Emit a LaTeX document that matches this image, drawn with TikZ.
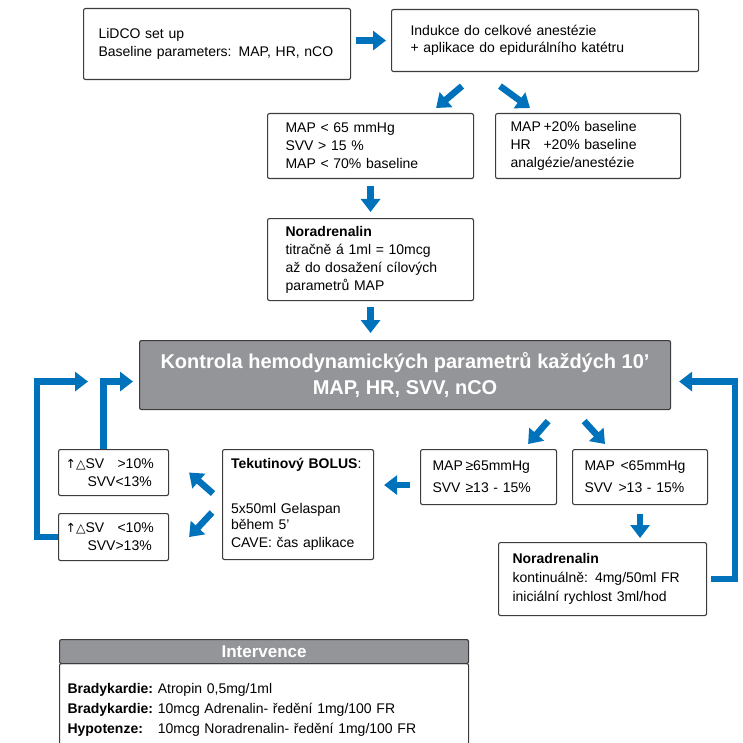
\documentclass[tikz,border=0pt]{standalone}
\usepackage{fontspec}
\setmainfont{Liberation Sans}
\newfontfamily\glyphfont{DejaVu Sans}
\usetikzlibrary{arrows.meta,calc}
\definecolor{flowblue}{RGB}{0,114,188}
\definecolor{boxgray}{RGB}{148,149,153}
\definecolor{edgegray}{RGB}{60,60,60}
\newcommand{\svgain}{{\glyphfont\fontsize{12.5}{14}\selectfont ↑△}}
\begin{document}
\begin{tikzpicture}[x=1pt, y=-1pt,
  every node/.style={font=\fontsize{14}{18}\selectfont},
  stepbox/.style={draw=edgegray, line width=1.1pt, rounded corners=2pt, anchor=north west, align=left, inner ysep=2pt},
  graybox/.style={stepbox, fill=boxgray, align=center, text=white},
  bluearrow/.style={draw=flowblue, line width=6.5pt, -{Triangle[length=13pt,width=19pt]}}]
\path[use as bounding box, clip] (0,0) rectangle (743,743);
\node[stepbox, minimum width=267pt, minimum height=71pt, text width=237pt] (lidco) at (83,8) {LiDCO set up\\Baseline parameters: MAP, HR, nCO};
\node[stepbox, minimum width=307pt, minimum height=62pt, text width=269pt] (induk) at (391,9) {Indukce do celkové anestézie\\[-1pt]+ aplikace do epidurálního katétru};
\node[stepbox, minimum width=206pt, minimum height=65pt, text width=170pt] (lowmap) at (267,113) {MAP < 65 mmHg\\SVV > 15 \%\\MAP < 70\% baseline};
\node[stepbox, minimum width=185pt, minimum height=65pt, text width=155pt] (highmap) at (495,113) {\makebox[33pt][l]{MAP}+20\% baseline\\\makebox[33pt][l]{HR}+20\% baseline\\analgézie/anestézie};
\node[stepbox, minimum width=206pt, minimum height=82pt, text width=170pt] (titr) at (267,218) {\textbf{Noradrenalin}\\titračně á 1ml = 10mcg\\až do dosažení cílových\\parametrů MAP};
\node[graybox, minimum width=531pt, minimum height=69pt, font=\fontsize{20}{26}\selectfont\bfseries] (control) at (139,340) {Kontrola hemodynamických parametrů každých 10'\\MAP, HR, SVV, nCO};
\node[stepbox, minimum width=110pt, minimum height=46pt, text width=96pt] (up10) at (58,449) {\makebox[52pt][l]{\svgain SV}>10\%\\\hspace*{22pt}SVV<13\%};
\node[stepbox, minimum width=110pt, minimum height=47pt, text width=96pt] (down10) at (58,513) {\makebox[52pt][l]{\svgain SV}<10\%\\\hspace*{22pt}SVV>13\%};
\node[stepbox, minimum width=151pt, minimum height=110pt, text width=134pt] (bolus) at (222,449) {\textbf{Tekutinový BOLUS}:\\[27pt]5x50ml Gelaspan\\[-2pt]během 5'\\CAVE: čas aplikace};
\node[stepbox, minimum width=136pt, minimum height=55pt, text width=112pt] (mapok) at (420,449) {\makebox[33pt][l]{MAP}≥65mmHg\\[4pt]\makebox[33pt][l]{SVV}≥13 - 15\%};
\node[stepbox, minimum width=135pt, minimum height=55pt, text width=111pt] (maplow) at (572,449) {\makebox[36pt][l]{MAP}<65mmHg\\[4pt]\makebox[34pt][l]{SVV}>13 - 15\%};
\node[stepbox, minimum width=208pt, minimum height=73pt, text width=180pt] (norcont) at (498,542) {\textbf{Noradrenalin}\\[1pt]kontinuálně: 4mg/50ml FR\\[1pt]iniciální rychlost 3ml/hod};
\node[graybox, minimum width=409pt, minimum height=24pt, font=\fontsize{17}{20}\selectfont\bfseries] (intHead) at (59,639) {Intervence};
\node[stepbox, minimum width=409pt, text width=393pt, inner ysep=16pt, text depth=80pt] (intBody) at (59,663) {\renewcommand{\arraystretch}{1.12}\begin{tabular}{@{}l@{\ }l@{}}
\textbf{Bradykardie:} & Atropin 0,5mg/1ml\\
\textbf{Bradykardie:} & 10mcg Adrenalin- ředění 1mg/100 FR\\
\textbf{Hypotenze:} & 10mcg Noradrenalin- ředění 1mg/100 FR
\end{tabular}};
\draw[bluearrow] ([xshift=5pt]lidco.east |- induk.west) -- ([xshift=-5pt]induk.west);
\draw[bluearrow] ($(induk.south west)+(71,14)$) -- ($(lowmap.north east)+(-38,-5)$);
\draw[bluearrow] ($(induk.south west)+(109,14)$) -- ($(highmap.north west)+(35,-5)$);
\draw[bluearrow] ($(lowmap.south)+(0,7)$) -- ($(titr.north)+(0,-6)$);
\draw[bluearrow] ($(titr.south)+(0,6)$) -- ($(titr.south |- control.north)+(0,-7)$);
\draw[bluearrow] ($(control.south east)+(-123,11)$) -- ($(mapok.north east)+(-29,-5)$);
\draw[bluearrow] ($(control.south east)+(-87,11)$) -- ($(maplow.north west)+(33,-5)$);
\draw[bluearrow] ($(mapok.west)+(-10,8)$) -- ($(bolus.east |- mapok.west)+(10,8)$);
\draw[bluearrow] ($(maplow.south)+(0,9)$) -- ($(maplow.south |- norcont.north)+(0,-4)$);
\draw[bluearrow] ($(bolus.west)+(-9,-11)$) -- ($(up10.east)+(20,0)$);
\draw[bluearrow] ($(bolus.west)+(-10,8)$) -- ($(down10.east)+(20,0)$);
\draw[bluearrow] ($(up10.north)+(-10,0)$) |- ($(control.west)+(-6,6.5)$);
\draw[bluearrow] (down10.west) -- ++(-21,0) |- ($(control.west)+(-51,6.5)$);
\draw[bluearrow] ($(norcont.east)+(4,0)$) -- ++(24,0) |- ($(control.east)+(8,6.5)$);
\end{tikzpicture}
\end{document}
